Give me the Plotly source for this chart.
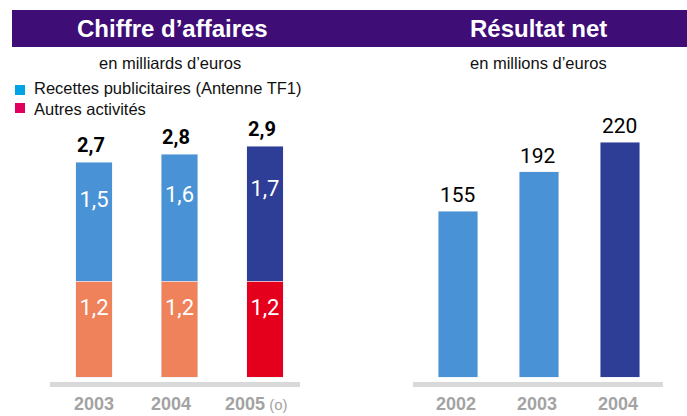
import plotly.graph_objects as go

W, H = 687, 416

# ---- data ----
ca_years = ["2003", "2004", "2005"]
ca_year_labels = ["2003", "2004",
                  "2005<span style='font-size:15px;font-weight:normal'> (o)</span>"]
ca_autres = [1.2, 1.2, 1.2]
ca_pub = [1.5, 1.6, 1.7]
ca_total = [2.7, 2.8, 2.9]

rn_years = ["2002", "2003", "2004"]
rn_values = [155, 192, 220]

# ---- styles ----
LB = "#4a92d6"
DB = "#2e3d96"
SALMON = "#ef825a"
RED = "#e4001d"
PURPLE = "#3e0d76"
GRAY = "#a3a3a3"
SANS = "Liberation Sans, Arial, sans-serif"

def fr(v):
    return f"{v:.1f}".replace(".", ",")

def px(x):
    return x / W

def py(y):
    return 1 - y / H

fig = go.Figure()

fig.add_trace(go.Bar(x=ca_years, y=ca_autres, marker_color=[SALMON, SALMON, RED],
                     width=0.43, xaxis="x", yaxis="y", hoverinfo="skip"))
fig.add_trace(go.Bar(x=ca_years, y=ca_pub, marker_color=[LB, LB, DB],
                     width=0.43, xaxis="x", yaxis="y", hoverinfo="skip"))
fig.add_trace(go.Bar(x=rn_years, y=rn_values, marker_color=[LB, LB, DB],
                     width=0.49, xaxis="x2", yaxis="y2", hoverinfo="skip"))

# inner labels
fig.add_trace(go.Scatter(x=ca_years, y=[v * 0.71 for v in ca_autres], mode="text",
                         text=[fr(v) for v in ca_autres], xaxis="x", yaxis="y",
                         textfont=dict(family="Roboto", size=22, color="white"),
                         hoverinfo="skip"))
fig.add_trace(go.Scatter(x=ca_years, y=[a + p * 0.67 for a, p in zip(ca_autres, ca_pub)],
                         mode="text", text=[fr(v) for v in ca_pub], xaxis="x", yaxis="y",
                         textfont=dict(family="Roboto", size=22, color="white"),
                         hoverinfo="skip"))

ann = []
for i, t in enumerate(ca_total):
    ann.append(dict(x=i, y=t, xref="x", yref="y", text=fr(t), showarrow=False,
                    xanchor="center", yanchor="middle", yshift=17, xshift=-3,
                    font=dict(family="Roboto", size=20, color="black", weight="bold")))
for i, v in enumerate(rn_values):
    ann.append(dict(x=i, y=v, xref="x2", yref="y2", text=str(v), showarrow=False,
                    xanchor="center", yanchor="middle", yshift=16, xshift=-1,
                    font=dict(family="Roboto", size=21, color="black")))

# x labels
for i, (lab, sh) in enumerate(zip(ca_year_labels, [0, -8, -8])):
    ann.append(dict(x=i, y=py(404), xref="x", yref="paper", text=lab, showarrow=False,
                    xanchor="center", yanchor="middle", xshift=sh,
                    font=dict(family=SANS, size=18, color=GRAY, weight="bold")))
for i, yr in enumerate(rn_years):
    ann.append(dict(x=i, y=py(404), xref="x2", yref="paper", text=yr, showarrow=False,
                    xanchor="center", yanchor="middle", xshift=-2,
                    font=dict(family=SANS, size=18, color=GRAY, weight="bold")))

# titles / subtitles / legend
def txt(x, y, text, size, color="#111", bold=False, xanchor="center"):
    return dict(x=px(x), y=py(y), xref="paper", yref="paper", text=text, showarrow=False,
                xanchor=xanchor, yanchor="middle",
                font=dict(family=SANS, size=size, color=color,
                          weight="bold" if bold else "normal"))

ann += [
    txt(172, 28.5, "Chiffre d’affaires", 24, "white", True),
    txt(538, 28.5, "Résultat net", 24, "white", True),
    txt(170, 63, "en milliards d’euros", 16.5),
    txt(538, 63, "en millions d’euros", 16.5),
    txt(32, 88, "Recettes publicitaires (Antenne TF1)", 16.5, xanchor="left"),
    txt(32, 109, "Autres activités", 16.5, xanchor="left"),
]

shapes = [
    dict(type="rect", xref="paper", yref="paper", x0=px(12), x1=px(687), y0=py(47), y1=py(10),
         fillcolor=PURPLE, line_width=0, layer="below"),
    dict(type="rect", xref="paper", yref="paper", x0=px(15), x1=px(25), y0=py(95), y1=py(85),
         fillcolor="#00a4e4", line_width=0),
    dict(type="rect", xref="paper", yref="paper", x0=px(15), x1=px(25), y0=py(113), y1=py(103),
         fillcolor="#e2005e", line_width=0),
]

ydom = [(H - 382) / H, (H - 120) / H]
fig.update_layout(
    width=W, height=H, margin=dict(l=0, r=0, t=0, b=0),
    paper_bgcolor="white", plot_bgcolor="rgba(0,0,0,0)",
    barmode="stack", showlegend=False,
    annotations=ann, shapes=shapes,
    xaxis=dict(domain=[px(50), px(300)], range=[-0.515, 2.41], type="category",
               showline=True, linecolor="#d9d9d9", linewidth=5, showticklabels=False,
               showgrid=False, zeroline=False, ticks="", anchor="y"),
    yaxis=dict(domain=ydom, range=[-5 / 79.6, 257 / 79.6], visible=False, anchor="x"),
    xaxis2=dict(domain=[px(413), px(663)], range=[-0.556, 2.53], type="category",
                showline=True, linecolor="#d9d9d9", linewidth=5, showticklabels=False,
                showgrid=False, zeroline=False, ticks="", anchor="y2"),
    yaxis2=dict(domain=ydom, range=[-5 / 1.068, 257 / 1.068], visible=False, anchor="x2"),
)

fig.write_html("out.html", config={"displayModeBar": False},
               post_script="document.body.style.margin='0';document.body.style.overflow='hidden';")
